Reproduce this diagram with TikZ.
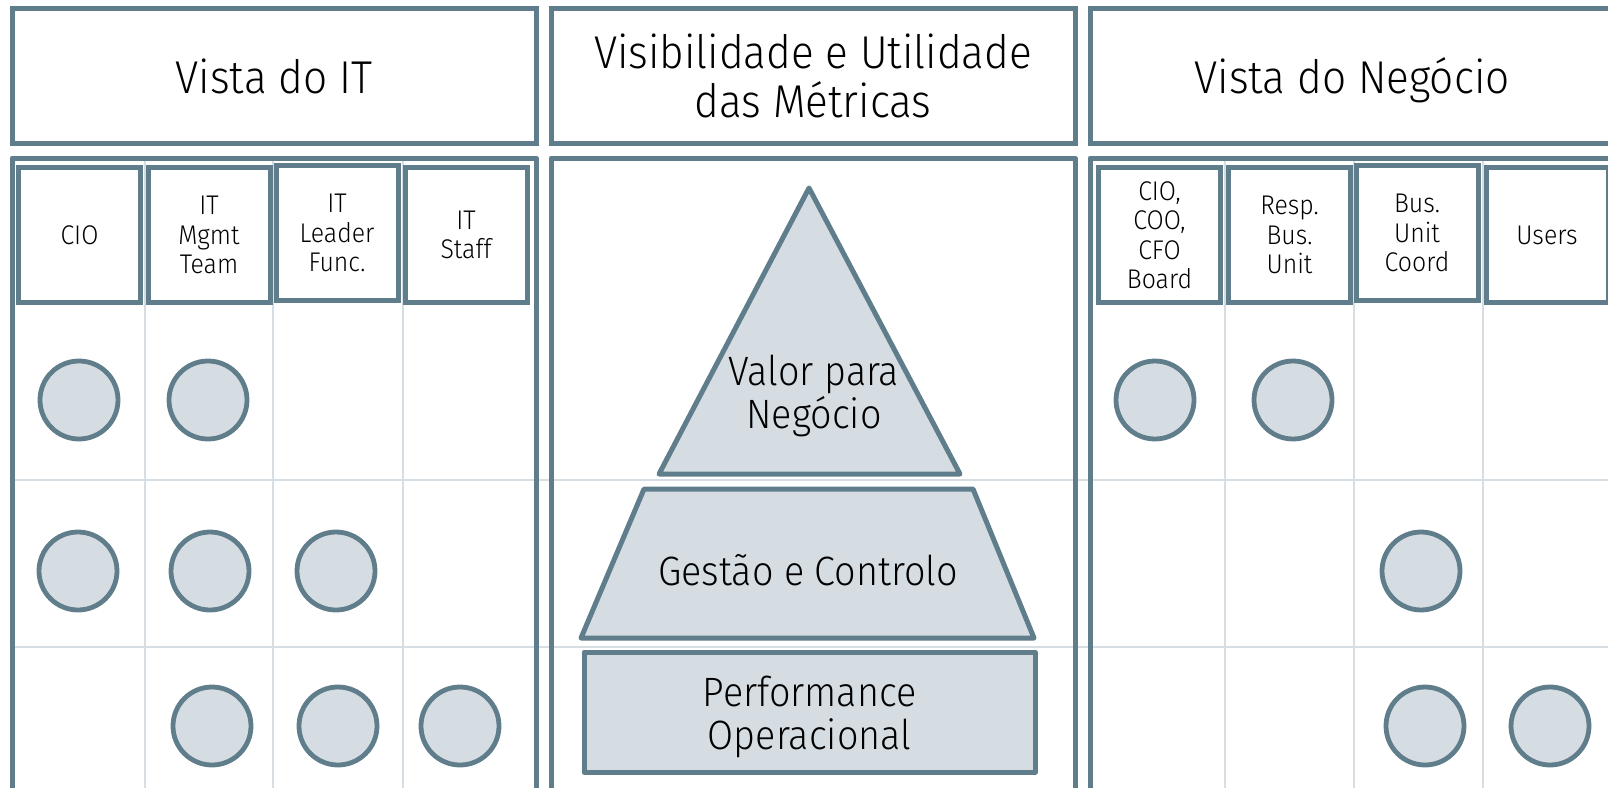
\documentclass[tikz,border=0pt]{standalone}
\usepackage{fontspec}
\setmainfont{Fira Sans}[UprightFont={* Light},FakeStretch=0.92]
\usepackage{tikz}
\definecolor{slate}{HTML}{607D8B}
\definecolor{pale}{HTML}{D5DDE3}
\definecolor{gridgray}{HTML}{D6DDE3}

\begin{document}
\begin{tikzpicture}[x=1pt,y=-1pt,
  panel/.style={draw=slate,line width=5pt,line join=round},
  header/.style={draw=slate,line width=5pt,minimum width=524pt,minimum height=135pt,inner sep=0pt,align=center,font=\fontsize{46}{49}\selectfont},
  role/.style={draw=slate,line width=5pt,fill=white,minimum width=122pt,minimum height=135pt,inner sep=0pt,align=center,font=\fontsize{27}{29.5}\selectfont},
  dot/.style={circle,draw=slate,fill=pale,line width=4.8pt,minimum size=78pt,inner sep=0pt},
  level/.style={draw=slate,fill=pale,line width=5pt,line join=round},
  leveltext/.style={align=center,font=\fontsize{41}{43}\selectfont},
  gridline/.style={draw=gridgray,line width=2.5pt}]
\useasboundingbox (0,0) rectangle (1608,787);
\clip (0,0) rectangle (1608,787);

% grid
\draw[gridline] (12,480) -- (1608,480);
\draw[gridline] (12,647) -- (1608,647);
\draw[gridline] (145,158) -- (145,790);
\draw[gridline] (273,158) -- (273,790);
\draw[gridline] (403,158) -- (403,790);
\draw[gridline] (1225,158) -- (1225,790);
\draw[gridline] (1354,158) -- (1354,790);
\draw[gridline] (1483,158) -- (1483,790);

% headers
\node[header] (itview) at (274,76) {Vista do IT};
\node[header] (metrics) at (813,76) {Visibilidade e Utilidade\\das Métricas};
\node[header,text depth=0pt] (bizview) at (1352,76) {Vista do Negócio};

\draw[panel] (12,158) rectangle (536,790);
\draw[panel] (551,158) rectangle (1075,790);
\draw[panel] (1090,158) rectangle (1614,790);

% IT roles
\node[role] (cio) at (79.5,235) {CIO};
\node[role] (mgmt) at (209,235) {IT\\Mgmt\\Team};
\node[role] (leader) at (337,233) {IT\\Leader\\Func.};
\node[role] (staff) at (466,235) {IT\\Staff};

% business roles
\node[role] (board) at (1159.5,235) {CIO,\\COO,\\CFO\\Board};
\node[role] (resp) at (1289.5,235) {Resp.\\Bus.\\Unit};
\node[role] (coord) at (1417,233) {Bus.\\Unit\\Coord};
\node[role] (users) at (1547,235) {Users};

% pyramid
\draw[level] (809,188) -- (960,474) -- (659,474) -- cycle;
\draw[level] (644,489) -- (973,489) -- (1034,638) -- (581,638) -- cycle;
\node[level,minimum width=451pt,minimum height=120pt] (oper) at (809.5,712) {};
\node[leveltext] (value) at (814,396) {Valor para\\Negócio};
\node[leveltext] (control) at (808,570) {Gestão e Controlo};
\node[leveltext] (perf) at (809.5,717) {Performance\\Operacional};

% IT marks
\node[dot] (cio1) at (79,400) {};
\node[dot] (mgmt1) at (208,400) {};
\node[dot] (cio2) at (78,571) {};
\node[dot] (mgmt2) at (210,571) {};
\node[dot] (leader2) at (336,571) {};
\node[dot] (mgmt3) at (212,726) {};
\node[dot] (leader3) at (338,726) {};
\node[dot] (staff3) at (460,726) {};

% business marks
\node[dot] (board1) at (1155,400) {};
\node[dot] (resp1) at (1293,400) {};
\node[dot] (coord2) at (1421,571) {};
\node[dot] (coord3) at (1425,726) {};
\node[dot] (users3) at (1550,726) {};
\end{tikzpicture}
\end{document}
